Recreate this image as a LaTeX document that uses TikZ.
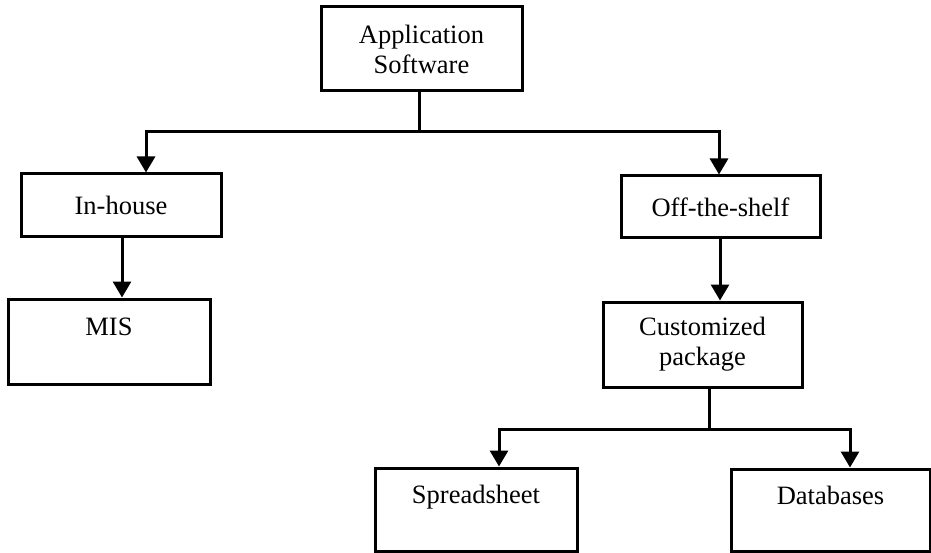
\documentclass[tikz,border=0pt]{standalone}
\usepackage{fontspec}
\setmainfont{Liberation Serif}
\usetikzlibrary{arrows.meta}
\begin{document}
\begin{tikzpicture}[x=1pt,y=-1pt,
  box/.style={draw=black, line width=3pt, fill=white, inner sep=0pt, align=center,
    font=\fontsize{26.5}{30}\selectfont},
  conn/.style={line width=3pt, line cap=rect},
  arr/.style={conn, -{Triangle[width=18pt,length=16pt]}}]
\useasboundingbox[fill=white] (0,0) rectangle (931,553);
% boxes
\node[box, minimum width=201pt, minimum height=84pt] (app) at (421.5,49) {Application\\Software};
\node[box, minimum width=200pt, minimum height=63pt] (inhouse) at (121,205.5) {In-house};
\node[box, minimum width=202pt, minimum height=85pt] (mis) at (109,341.5) {MIS\\\mbox{}};
\node[box, minimum width=199pt, minimum height=62pt] (off) at (720.5,207) {Off-the-shelf};
\node[box, minimum width=199pt, minimum height=85pt] (cust) at (702.5,344.5) {Customized\\package};
\node[box, minimum width=202pt, minimum height=83pt] (spread) at (476,509.5) {Spreadsheet\\\mbox{}};
\node[box, minimum width=199pt, minimum height=82pt] (db) at (830.5,510) {Databases\\\mbox{}};
% junctions
\coordinate (j1) at (419,132);
\coordinate (j2) at (709,429);
% connectors
\draw[conn] (app.south -| j1) -- (j1);
\draw[arr] (j1) -| ([xshift=25pt]inhouse.north);
\draw[arr] (j1) -| ([xshift=-1.5pt]off.north);
\draw[arr] ([xshift=1pt]inhouse.south) -- ([xshift=13pt]mis.north);
\draw[arr] ([xshift=-0.5pt]off.south) -- ([xshift=17.5pt]cust.north);
\draw[conn] (cust.south -| j2) -- (j2);
\draw[arr] (j2) -| ([xshift=23pt]spread.north);
\draw[arr] (j2) -| ([xshift=19.5pt]db.north);
\end{tikzpicture}
\end{document}
